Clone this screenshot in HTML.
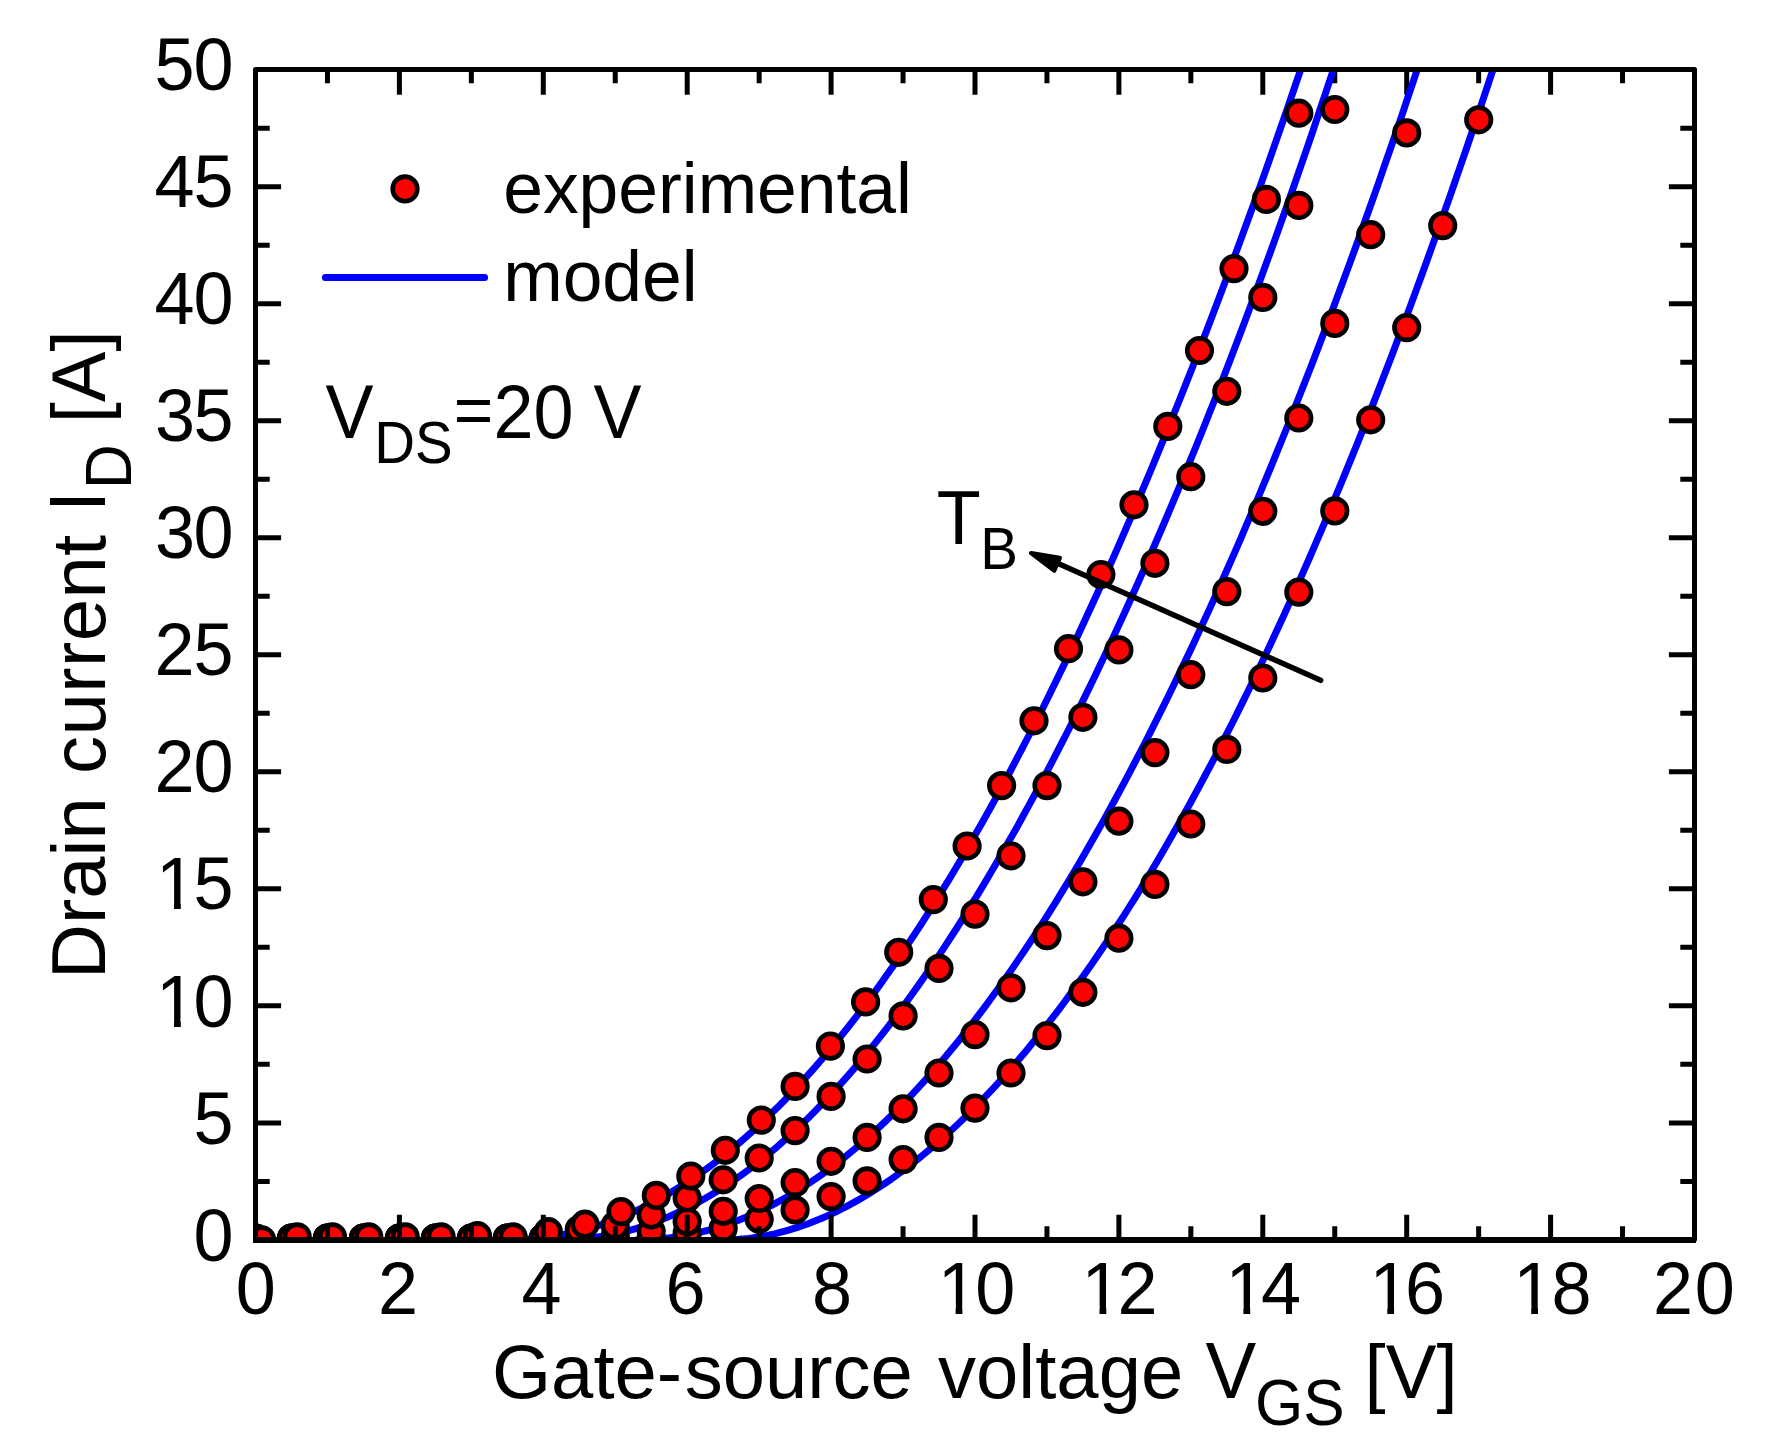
<!DOCTYPE html>
<html lang="en"><head><meta charset="utf-8"><title>Transfer characteristics</title>
<style>html,body{margin:0;padding:0;background:#fff}body{width:1789px;height:1456px;overflow:hidden}svg{display:block}text{font-family:"Liberation Sans",Arial,sans-serif;fill:#000}</style></head><body>
<svg width="1789" height="1456" viewBox="0 0 1789 1456">
<rect width="1789" height="1456" fill="#fff"/>
<defs><clipPath id="pc"><rect x="255.5" y="69.70" width="1439.00" height="1170.20"/></clipPath></defs>
<path stroke="#000" fill="none" stroke-width="5" d="M327.45 69.5v13.7M399.40 69.5v25.3M471.35 69.5v13.7M543.30 69.5v25.3M615.25 69.5v13.7M687.20 69.5v25.3M759.15 69.5v13.7M831.10 69.5v25.3M903.05 69.5v13.7M975.00 69.5v25.3M1046.95 69.5v13.7M1118.90 69.5v25.3M1190.85 69.5v13.7M1262.80 69.5v25.3M1334.75 69.5v13.7M1406.70 69.5v25.3M1478.65 69.5v13.7M1550.60 69.5v25.3M1622.55 69.5v13.7"/>
<g clip-path="url(#pc)">
<g fill="none" stroke="#0000ff" stroke-width="7" stroke-linejoin="round" stroke-linecap="round">
<path d="M722.5 1239.9 L726.2 1239.9 L729.9 1239.8 L733.7 1239.6 L737.4 1239.4 L741.1 1239.1 L744.8 1238.8 L748.5 1238.4 L752.3 1237.9 L756.0 1237.3 L759.7 1236.8 L763.4 1236.1 L767.2 1235.4 L770.9 1234.6 L774.6 1233.8 L778.3 1232.9 L782.0 1231.9 L785.8 1230.9 L789.5 1229.9 L793.2 1228.7 L796.9 1227.6 L800.7 1226.3 L804.4 1225.0 L808.1 1223.7 L811.8 1222.3 L815.5 1220.8 L819.3 1219.3 L823.0 1217.7 L826.7 1216.1 L830.4 1214.4 L835.9 1211.8 L841.3 1209.1 L846.7 1206.3 L852.2 1203.4 L857.6 1200.4 L863.0 1197.2 L868.5 1194.0 L873.9 1190.6 L879.3 1187.1 L884.8 1183.5 L890.2 1179.8 L895.6 1176.0 L901.1 1172.0 L906.5 1168.0 L911.9 1163.8 L917.4 1159.5 L922.8 1155.1 L928.2 1150.6 L933.7 1146.0 L939.1 1141.3 L944.5 1136.5 L950.0 1131.5 L955.4 1126.5 L960.9 1121.3 L966.3 1116.1 L971.7 1110.7 L977.2 1105.2 L982.6 1099.6 L988.0 1093.9 L993.5 1088.1 L998.9 1082.2 L1004.3 1076.1 L1009.8 1070.0 L1015.2 1063.7 L1020.6 1057.4 L1026.1 1050.9 L1031.5 1044.3 L1036.9 1037.6 L1042.4 1030.8 L1047.8 1023.9 L1053.2 1016.9 L1058.7 1009.8 L1064.1 1002.5 L1069.5 995.2 L1075.0 987.7 L1080.4 980.1 L1085.8 972.4 L1091.3 964.7 L1096.7 956.8 L1102.1 948.7 L1107.6 940.6 L1113.0 932.4 L1118.4 924.0 L1123.9 915.6 L1129.3 907.0 L1134.8 898.3 L1140.2 889.5 L1145.6 880.6 L1151.1 871.6 L1156.5 862.4 L1161.9 853.2 L1167.4 843.8 L1172.8 834.3 L1178.2 824.7 L1183.7 815.0 L1189.1 805.2 L1194.5 795.3 L1200.0 785.2 L1205.4 775.0 L1210.8 764.8 L1216.3 754.4 L1221.7 743.8 L1227.1 733.2 L1232.6 722.5 L1238.0 711.6 L1243.4 700.6 L1248.9 689.5 L1254.3 678.3 L1259.7 667.0 L1265.2 655.6 L1270.6 644.0 L1276.0 632.3 L1281.5 620.5 L1286.9 608.6 L1292.4 596.6 L1297.8 584.4 L1303.2 572.1 L1308.7 559.8 L1314.1 547.2 L1319.5 534.6 L1325.0 521.9 L1330.4 509.0 L1335.8 496.0 L1341.3 482.9 L1346.7 469.7 L1352.1 456.4 L1357.6 442.9 L1363.0 429.4 L1368.4 415.7 L1373.9 401.9 L1379.3 387.9 L1384.7 373.9 L1390.2 359.7 L1395.6 345.4 L1401.0 331.0 L1406.5 316.5 L1411.9 301.9 L1417.3 287.1 L1422.8 272.2 L1428.2 257.2 L1433.6 242.1 L1439.1 226.9 L1444.5 211.6 L1450.0 196.1 L1455.4 180.5 L1460.8 164.8 L1466.3 149.0 L1471.7 133.1 L1477.1 117.1 L1482.6 100.9 L1488.0 84.7 L1493.4 68.3 L1498.9 51.8 L1504.3 35.2 L1509.7 18.5 L1515.2 1.6 L1520.6 -15.3 L1526.0 -32.3 L1531.5 -49.5 L1536.9 -66.8"/>
<path d="M636.7 1239.9 L640.4 1239.9 L644.1 1239.8 L647.8 1239.7 L651.6 1239.5 L655.3 1239.3 L659.0 1239.0 L662.7 1238.6 L666.4 1238.2 L670.2 1237.8 L673.9 1237.3 L677.6 1236.8 L681.3 1236.1 L685.1 1235.5 L688.8 1234.8 L692.5 1234.0 L696.2 1233.2 L699.9 1232.4 L703.7 1231.4 L707.4 1230.5 L711.1 1229.4 L714.8 1228.4 L718.6 1227.2 L722.3 1226.1 L726.0 1224.8 L729.7 1223.5 L733.4 1222.2 L737.2 1220.8 L740.9 1219.3 L744.6 1217.8 L750.6 1215.3 L756.6 1212.6 L762.5 1209.8 L768.5 1206.9 L774.5 1203.8 L780.4 1200.6 L786.4 1197.2 L792.4 1193.7 L798.4 1190.1 L804.3 1186.3 L810.3 1182.4 L816.3 1178.4 L822.3 1174.2 L828.2 1169.8 L834.2 1165.4 L840.2 1160.8 L846.2 1156.0 L852.1 1151.1 L858.1 1146.1 L864.1 1140.9 L870.1 1135.6 L876.0 1130.2 L882.0 1124.6 L888.0 1118.9 L894.0 1113.0 L899.9 1107.0 L905.9 1100.9 L911.9 1094.6 L917.9 1088.2 L923.8 1081.7 L929.8 1075.0 L935.8 1068.1 L941.8 1061.2 L947.7 1054.1 L953.7 1046.8 L959.7 1039.5 L965.6 1031.9 L971.6 1024.3 L977.6 1016.5 L983.6 1008.6 L989.5 1000.5 L995.5 992.3 L1001.5 984.0 L1007.5 975.5 L1013.4 966.9 L1019.4 958.1 L1025.4 949.2 L1031.4 940.2 L1037.3 931.1 L1043.3 921.8 L1049.3 912.3 L1055.3 902.8 L1061.2 893.1 L1067.2 883.2 L1073.2 873.3 L1079.2 863.2 L1085.1 852.9 L1091.1 842.5 L1097.1 832.0 L1103.1 821.4 L1109.0 810.6 L1115.0 799.7 L1121.0 788.6 L1127.0 777.4 L1132.9 766.1 L1138.9 754.6 L1144.9 743.0 L1150.8 731.3 L1156.8 719.4 L1162.8 707.4 L1168.8 695.3 L1174.7 683.0 L1180.7 670.6 L1186.7 658.1 L1192.7 645.4 L1198.6 632.6 L1204.6 619.6 L1210.6 606.6 L1216.6 593.3 L1222.5 580.0 L1228.5 566.5 L1234.5 552.9 L1240.5 539.1 L1246.4 525.2 L1252.4 511.2 L1258.4 497.0 L1264.4 482.7 L1270.3 468.3 L1276.3 453.7 L1282.3 439.0 L1288.3 424.2 L1294.2 409.2 L1300.2 394.0 L1306.2 378.8 L1312.2 363.4 L1318.1 347.9 L1324.1 332.2 L1330.1 316.4 L1336.0 300.4 L1342.0 284.3 L1348.0 268.1 L1354.0 251.7 L1359.9 235.2 L1365.9 218.5 L1371.9 201.7 L1377.9 184.8 L1383.8 167.7 L1389.8 150.5 L1395.8 133.1 L1401.8 115.6 L1407.7 97.9 L1413.7 80.1 L1419.7 62.2 L1425.7 44.1 L1431.6 25.8 L1437.6 7.5 L1443.6 -11.1 L1449.6 -29.8 L1455.5 -48.6 L1461.5 -67.6"/>
<path d="M558.6 1239.9 L562.4 1239.9 L566.1 1239.8 L569.8 1239.7 L573.5 1239.5 L577.3 1239.3 L581.0 1239.0 L584.7 1238.6 L588.4 1238.2 L592.1 1237.8 L595.9 1237.3 L599.6 1236.7 L603.3 1236.1 L607.0 1235.5 L610.7 1234.8 L614.5 1234.0 L618.2 1233.2 L621.9 1232.3 L625.6 1231.4 L629.4 1230.4 L633.1 1229.4 L636.8 1228.3 L640.5 1227.1 L644.2 1225.9 L648.0 1224.7 L651.7 1223.4 L655.4 1222.0 L659.1 1220.6 L662.9 1219.1 L666.6 1217.6 L673.0 1214.8 L679.5 1211.8 L686.0 1208.7 L692.4 1205.4 L698.9 1201.9 L705.4 1198.3 L711.8 1194.5 L718.3 1190.6 L724.8 1186.4 L731.2 1182.1 L737.7 1177.7 L744.2 1173.0 L750.6 1168.2 L757.1 1163.2 L763.5 1158.1 L770.0 1152.8 L776.5 1147.3 L782.9 1141.7 L789.4 1135.9 L795.9 1129.9 L802.3 1123.7 L808.8 1117.4 L815.3 1110.9 L821.7 1104.3 L828.2 1097.5 L834.7 1090.5 L841.1 1083.4 L847.6 1076.1 L854.1 1068.6 L860.5 1061.0 L867.0 1053.2 L873.5 1045.2 L879.9 1037.1 L886.4 1028.8 L892.8 1020.3 L899.3 1011.7 L905.8 1002.9 L912.2 994.0 L918.7 984.9 L925.2 975.6 L931.6 966.2 L938.1 956.6 L944.6 946.9 L951.0 937.0 L957.5 927.0 L964.0 916.7 L970.4 906.4 L976.9 895.8 L983.4 885.2 L989.8 874.3 L996.3 863.3 L1002.7 852.1 L1009.2 840.8 L1015.7 829.4 L1022.1 817.7 L1028.6 805.9 L1035.1 794.0 L1041.5 781.9 L1048.0 769.7 L1054.5 757.2 L1060.9 744.7 L1067.4 732.0 L1073.9 719.1 L1080.3 706.1 L1086.8 692.9 L1093.3 679.5 L1099.7 666.0 L1106.2 652.4 L1112.7 638.6 L1119.1 624.6 L1125.6 610.5 L1132.0 596.2 L1138.5 581.8 L1145.0 567.2 L1151.4 552.5 L1157.9 537.5 L1164.4 522.5 L1170.8 507.3 L1177.3 491.9 L1183.8 476.3 L1190.2 460.6 L1196.7 444.7 L1203.2 428.7 L1209.6 412.5 L1216.1 396.2 L1222.6 379.6 L1229.0 363.0 L1235.5 346.1 L1242.0 329.1 L1248.4 311.9 L1254.9 294.5 L1261.3 277.0 L1267.8 259.3 L1274.3 241.4 L1280.7 223.3 L1287.2 205.1 L1293.7 186.7 L1300.1 168.1 L1306.6 149.3 L1313.1 130.4 L1319.5 111.2 L1326.0 91.9 L1332.5 72.4 L1338.9 52.6 L1345.4 32.7 L1351.9 12.6 L1358.3 -7.7 L1364.8 -28.2 L1371.3 -48.9 L1377.7 -69.8"/>
<path d="M508.3 1239.9 L512.0 1239.9 L515.7 1239.8 L519.5 1239.7 L523.2 1239.5 L526.9 1239.3 L530.6 1239.0 L534.3 1238.7 L538.1 1238.4 L541.8 1237.9 L545.5 1237.5 L549.2 1237.0 L552.9 1236.4 L556.7 1235.8 L560.4 1235.1 L564.1 1234.4 L567.8 1233.7 L571.6 1232.9 L575.3 1232.0 L579.0 1231.1 L582.7 1230.1 L586.4 1229.1 L590.2 1228.1 L593.9 1226.9 L597.6 1225.8 L601.3 1224.6 L605.0 1223.3 L608.8 1222.0 L612.5 1220.6 L616.2 1219.2 L623.0 1216.5 L629.8 1213.6 L636.6 1210.5 L643.3 1207.3 L650.1 1203.9 L656.9 1200.3 L663.7 1196.5 L670.5 1192.6 L677.2 1188.5 L684.0 1184.2 L690.8 1179.8 L697.6 1175.1 L704.4 1170.3 L711.2 1165.4 L717.9 1160.2 L724.7 1154.9 L731.5 1149.4 L738.3 1143.7 L745.1 1137.8 L751.8 1131.8 L758.6 1125.6 L765.4 1119.2 L772.2 1112.6 L779.0 1105.9 L785.8 1099.0 L792.5 1091.9 L799.3 1084.6 L806.1 1077.2 L812.9 1069.6 L819.7 1061.8 L826.4 1053.8 L833.2 1045.6 L840.0 1037.3 L846.8 1028.8 L853.6 1020.1 L860.4 1011.3 L867.1 1002.3 L873.9 993.1 L880.7 983.7 L887.5 974.1 L894.3 964.4 L901.0 954.5 L907.8 944.4 L914.6 934.2 L921.4 923.8 L928.2 913.2 L935.0 902.4 L941.7 891.4 L948.5 880.3 L955.3 869.0 L962.1 857.6 L968.9 845.9 L975.6 834.1 L982.4 822.2 L989.2 810.0 L996.0 797.7 L1002.8 785.2 L1009.6 772.5 L1016.3 759.7 L1023.1 746.7 L1029.9 733.5 L1036.7 720.2 L1043.5 706.7 L1050.2 693.0 L1057.0 679.1 L1063.8 665.1 L1070.6 650.9 L1077.4 636.6 L1084.1 622.0 L1090.9 607.3 L1097.7 592.5 L1104.5 577.4 L1111.3 562.2 L1118.1 546.9 L1124.8 531.3 L1131.6 515.6 L1138.4 499.7 L1145.2 483.7 L1152.0 467.5 L1158.7 451.1 L1165.5 434.6 L1172.3 417.8 L1179.1 401.0 L1185.9 383.9 L1192.7 366.7 L1199.4 349.3 L1206.2 331.7 L1213.0 314.0 L1219.8 296.1 L1226.6 278.0 L1233.3 259.8 L1240.1 241.4 L1246.9 222.8 L1253.7 204.1 L1260.5 185.2 L1267.3 166.1 L1274.0 146.8 L1280.8 127.4 L1287.6 107.8 L1294.4 88.0 L1301.2 68.1 L1307.9 48.0 L1314.7 27.7 L1321.5 7.2 L1328.3 -13.4 L1335.1 -34.3 L1341.9 -55.3"/>
</g>
<g fill="#ff0000" stroke="#000" stroke-width="4.6">
<circle cx="255.5" cy="1238.0" r="12.3"/>
<circle cx="291.5" cy="1238.0" r="12.3"/>
<circle cx="327.4" cy="1238.0" r="12.3"/>
<circle cx="363.4" cy="1238.0" r="12.3"/>
<circle cx="399.4" cy="1238.0" r="12.3"/>
<circle cx="435.4" cy="1238.0" r="12.3"/>
<circle cx="471.4" cy="1238.0" r="12.3"/>
<circle cx="507.3" cy="1238.0" r="12.3"/>
<circle cx="543.3" cy="1238.0" r="12.3"/>
<circle cx="579.3" cy="1238.0" r="12.3"/>
<circle cx="615.2" cy="1238.0" r="12.3"/>
<circle cx="651.2" cy="1238.0" r="12.3"/>
<circle cx="687.2" cy="1232.9" r="12.3"/>
<circle cx="723.2" cy="1228.2" r="12.3"/>
<circle cx="759.2" cy="1219.3" r="12.3"/>
<circle cx="795.1" cy="1209.9" r="12.3"/>
<circle cx="831.1" cy="1196.6" r="12.3"/>
<circle cx="867.1" cy="1180.9" r="12.3"/>
<circle cx="903.1" cy="1159.6" r="12.3"/>
<circle cx="939.0" cy="1137.4" r="12.3"/>
<circle cx="975.0" cy="1108.1" r="12.3"/>
<circle cx="1011.0" cy="1073.0" r="12.3"/>
<circle cx="1047.0" cy="1035.6" r="12.3"/>
<circle cx="1082.9" cy="992.3" r="12.3"/>
<circle cx="1118.9" cy="938.2" r="12.3"/>
<circle cx="1154.9" cy="884.4" r="12.3"/>
<circle cx="1190.8" cy="824.0" r="12.3"/>
<circle cx="1226.8" cy="749.4" r="12.3"/>
<circle cx="1262.8" cy="678.0" r="12.3"/>
<circle cx="1298.8" cy="592.1" r="12.3"/>
<circle cx="1334.8" cy="510.9" r="12.3"/>
<circle cx="1370.7" cy="419.8" r="12.3"/>
<circle cx="1406.7" cy="327.6" r="12.3"/>
<circle cx="1442.7" cy="225.6" r="12.3"/>
<circle cx="1478.7" cy="119.8" r="12.3"/>
<circle cx="255.5" cy="1238.0" r="12.3"/>
<circle cx="291.5" cy="1238.0" r="12.3"/>
<circle cx="327.4" cy="1238.0" r="12.3"/>
<circle cx="363.4" cy="1238.0" r="12.3"/>
<circle cx="399.4" cy="1238.0" r="12.3"/>
<circle cx="435.4" cy="1238.0" r="12.3"/>
<circle cx="471.4" cy="1238.0" r="12.3"/>
<circle cx="507.3" cy="1238.0" r="12.3"/>
<circle cx="543.3" cy="1238.0" r="12.3"/>
<circle cx="579.3" cy="1238.0" r="12.3"/>
<circle cx="615.2" cy="1236.4" r="12.3"/>
<circle cx="651.2" cy="1231.5" r="12.3"/>
<circle cx="687.2" cy="1221.6" r="12.3"/>
<circle cx="723.2" cy="1211.3" r="12.3"/>
<circle cx="759.2" cy="1198.5" r="12.3"/>
<circle cx="795.1" cy="1182.6" r="12.3"/>
<circle cx="831.1" cy="1161.3" r="12.3"/>
<circle cx="867.1" cy="1137.4" r="12.3"/>
<circle cx="903.1" cy="1108.8" r="12.3"/>
<circle cx="939.0" cy="1073.0" r="12.3"/>
<circle cx="975.0" cy="1034.6" r="12.3"/>
<circle cx="1011.0" cy="987.8" r="12.3"/>
<circle cx="1047.0" cy="935.6" r="12.3"/>
<circle cx="1082.9" cy="881.8" r="12.3"/>
<circle cx="1118.9" cy="821.2" r="12.3"/>
<circle cx="1154.9" cy="752.6" r="12.3"/>
<circle cx="1190.8" cy="674.7" r="12.3"/>
<circle cx="1226.8" cy="591.6" r="12.3"/>
<circle cx="1262.8" cy="511.3" r="12.3"/>
<circle cx="1298.8" cy="418.0" r="12.3"/>
<circle cx="1334.8" cy="323.4" r="12.3"/>
<circle cx="1370.7" cy="234.7" r="12.3"/>
<circle cx="1406.7" cy="132.9" r="12.3"/>
<circle cx="255.5" cy="1238.0" r="12.3"/>
<circle cx="291.5" cy="1238.0" r="12.3"/>
<circle cx="327.4" cy="1238.0" r="12.3"/>
<circle cx="363.4" cy="1238.0" r="12.3"/>
<circle cx="399.4" cy="1238.0" r="12.3"/>
<circle cx="435.4" cy="1238.0" r="12.3"/>
<circle cx="471.4" cy="1238.0" r="12.3"/>
<circle cx="507.3" cy="1238.0" r="12.3"/>
<circle cx="543.3" cy="1238.0" r="12.3"/>
<circle cx="579.3" cy="1229.4" r="12.3"/>
<circle cx="615.2" cy="1225.4" r="12.3"/>
<circle cx="651.2" cy="1214.9" r="12.3"/>
<circle cx="687.2" cy="1198.0" r="12.3"/>
<circle cx="723.2" cy="1179.8" r="12.3"/>
<circle cx="759.2" cy="1158.0" r="12.3"/>
<circle cx="795.1" cy="1130.6" r="12.3"/>
<circle cx="831.1" cy="1096.4" r="12.3"/>
<circle cx="867.1" cy="1059.0" r="12.3"/>
<circle cx="903.1" cy="1015.9" r="12.3"/>
<circle cx="939.0" cy="968.4" r="12.3"/>
<circle cx="975.0" cy="914.1" r="12.3"/>
<circle cx="1011.0" cy="855.8" r="12.3"/>
<circle cx="1047.0" cy="785.6" r="12.3"/>
<circle cx="1082.9" cy="717.3" r="12.3"/>
<circle cx="1118.9" cy="649.9" r="12.3"/>
<circle cx="1154.9" cy="563.3" r="12.3"/>
<circle cx="1190.8" cy="476.7" r="12.3"/>
<circle cx="1226.8" cy="391.3" r="12.3"/>
<circle cx="1262.8" cy="297.4" r="12.3"/>
<circle cx="1298.8" cy="205.4" r="12.3"/>
<circle cx="1334.8" cy="109.5" r="12.3"/>
<circle cx="261.6" cy="1239.9" r="12.3"/>
<circle cx="297.2" cy="1236.9" r="12.3"/>
<circle cx="332.5" cy="1236.9" r="12.3"/>
<circle cx="368.8" cy="1236.9" r="12.3"/>
<circle cx="405.2" cy="1236.9" r="12.3"/>
<circle cx="441.1" cy="1236.9" r="12.3"/>
<circle cx="477.5" cy="1235.7" r="12.3"/>
<circle cx="513.1" cy="1236.9" r="12.3"/>
<circle cx="548.3" cy="1231.7" r="12.3"/>
<circle cx="585.0" cy="1224.2" r="12.3"/>
<circle cx="621.0" cy="1211.6" r="12.3"/>
<circle cx="656.3" cy="1195.4" r="12.3"/>
<circle cx="690.8" cy="1176.0" r="12.3"/>
<circle cx="725.3" cy="1150.3" r="12.3"/>
<circle cx="761.3" cy="1120.1" r="12.3"/>
<circle cx="795.1" cy="1086.4" r="12.3"/>
<circle cx="830.4" cy="1046.1" r="12.3"/>
<circle cx="865.6" cy="1001.9" r="12.3"/>
<circle cx="898.7" cy="952.3" r="12.3"/>
<circle cx="933.3" cy="899.6" r="12.3"/>
<circle cx="967.1" cy="846.0" r="12.3"/>
<circle cx="1001.6" cy="785.6" r="12.3"/>
<circle cx="1034.0" cy="720.8" r="12.3"/>
<circle cx="1068.5" cy="648.7" r="12.3"/>
<circle cx="1100.9" cy="574.5" r="12.3"/>
<circle cx="1134.0" cy="504.8" r="12.3"/>
<circle cx="1167.8" cy="426.4" r="12.3"/>
<circle cx="1199.5" cy="350.5" r="12.3"/>
<circle cx="1234.0" cy="268.6" r="12.3"/>
<circle cx="1266.4" cy="199.4" r="12.3"/>
<circle cx="1298.8" cy="113.2" r="12.3"/>
</g>
</g>
<g stroke="#000" fill="none">
<rect x="255.5" y="69.5" width="1439.00" height="1170.0" stroke-width="5" stroke-linejoin="round"/>
<path d="M253.0 1240H1696.0" stroke-width="6"/>
<path stroke-width="5" d="M327.45 1240v-13.7M399.40 1240v-25.3M471.35 1240v-13.7M543.30 1240v-25.3M615.25 1240v-13.7M687.20 1240v-25.3M759.15 1240v-13.7M831.10 1240v-25.3M903.05 1240v-13.7M975.00 1240v-25.3M1046.95 1240v-13.7M1118.90 1240v-25.3M1190.85 1240v-13.7M1262.80 1240v-25.3M1334.75 1240v-13.7M1406.70 1240v-25.3M1478.65 1240v-13.7M1550.60 1240v-25.3M1622.55 1240v-13.7M255.50 1181.39h14.2M1694.50 1181.39h-14.2M255.50 1122.88h25.6M1694.50 1122.88h-25.6M255.50 1064.37h14.2M1694.50 1064.37h-14.2M255.50 1005.86h25.6M1694.50 1005.86h-25.6M255.50 947.35h14.2M1694.50 947.35h-14.2M255.50 888.84h25.6M1694.50 888.84h-25.6M255.50 830.33h14.2M1694.50 830.33h-14.2M255.50 771.82h25.6M1694.50 771.82h-25.6M255.50 713.31h14.2M1694.50 713.31h-14.2M255.50 654.80h25.6M1694.50 654.80h-25.6M255.50 596.29h14.2M1694.50 596.29h-14.2M255.50 537.78h25.6M1694.50 537.78h-25.6M255.50 479.27h14.2M1694.50 479.27h-14.2M255.50 420.76h25.6M1694.50 420.76h-25.6M255.50 362.25h14.2M1694.50 362.25h-14.2M255.50 303.74h25.6M1694.50 303.74h-25.6M255.50 245.23h14.2M1694.50 245.23h-14.2M255.50 186.72h25.6M1694.50 186.72h-25.6M255.50 128.21h14.2M1694.50 128.21h-14.2"/>
</g>
<text transform="translate(0 1313.8) scale(1 1.04)" font-size="72px" x="235.8">0</text>
<text transform="translate(0 1313.8) scale(1 1.04)" font-size="72px" x="377.9">2</text>
<text transform="translate(0 1313.8) scale(1 1.04)" font-size="72px" x="521.4">4</text>
<text transform="translate(0 1313.8) scale(1 1.04)" font-size="72px" x="665.5">6</text>
<text transform="translate(0 1313.8) scale(1 1.04)" font-size="72px" x="811.9">8</text>
<text transform="translate(0 1313.8) scale(1 1.04)" font-size="72px" x="937.7 975.3">10</text>
<text transform="translate(0 1313.8) scale(1 1.04)" font-size="72px" x="1081.6 1117.5">12</text>
<text transform="translate(0 1313.8) scale(1 1.04)" font-size="72px" x="1225.5 1260.9">14</text>
<text transform="translate(0 1313.8) scale(1 1.04)" font-size="72px" x="1369.4 1405.0">16</text>
<text transform="translate(0 1313.8) scale(1 1.04)" font-size="72px" x="1513.3 1551.4">18</text>
<text transform="translate(0 1313.8) scale(1 1.04)" font-size="72px" x="1653.0 1694.8">20</text>
<text transform="translate(0 1260.5) scale(1 1.04)" font-size="72px" x="193.6">0</text>
<text transform="translate(0 1143.5) scale(1 1.04)" font-size="72px" x="193.6">5</text>
<text transform="translate(0 1026.5) scale(1 1.04)" font-size="72px" x="156.1 193.6">10</text>
<text transform="translate(0 909.4) scale(1 1.04)" font-size="72px" x="156.1 193.6">15</text>
<text transform="translate(0 792.4) scale(1 1.04)" font-size="72px" x="154.5 193.6">20</text>
<text transform="translate(0 675.4) scale(1 1.04)" font-size="72px" x="154.5 193.6">25</text>
<text transform="translate(0 558.4) scale(1 1.04)" font-size="72px" x="155.0 193.6">30</text>
<text transform="translate(0 441.4) scale(1 1.04)" font-size="72px" x="155.0 193.6">35</text>
<text transform="translate(0 324.3) scale(1 1.04)" font-size="72px" x="154.5 193.6">40</text>
<text transform="translate(0 207.3) scale(1 1.04)" font-size="72px" x="154.5 193.6">45</text>
<text transform="translate(0 90.3) scale(1 1.04)" font-size="72px" x="154.5 193.6">50</text>
<path fill="#fff" d="M942.2 1306.6H955.6V1314.8H942.2ZM962.4 1306.6H975.0V1314.8H962.4ZM1086.1 1306.6H1099.5V1314.8H1086.1ZM1106.3 1306.6H1118.9V1314.8H1106.3ZM1230.0 1306.6H1243.4V1314.8H1230.0ZM1250.2 1306.6H1262.8V1314.8H1250.2ZM1373.9 1306.6H1387.3V1314.8H1373.9ZM1394.1 1306.6H1406.7V1314.8H1394.1ZM1517.8 1306.6H1531.2V1314.8H1517.8ZM1538.0 1306.6H1550.6V1314.8H1538.0ZM160.6 1019.3H174.0V1027.5H160.6ZM180.8 1019.3H193.4V1027.5H180.8ZM160.6 902.2H174.0V910.4H160.6ZM180.8 902.2H193.4V910.4H180.8Z"/>
<circle cx="405" cy="188.9" r="12.3" fill="#ff0000" stroke="#000" stroke-width="4.6"/>
<path d="M325.4 277.4H484.6" stroke="#0000ff" stroke-width="7" stroke-linecap="round" fill="none"/>
<text transform="translate(503.2 213.0)" font-size="71.4px">experimental</text>
<text transform="translate(503.2 301.0)" font-size="71.4px">model</text>
<text transform="translate(325.4 437.9) scale(1 1.055)" font-size="72px">V</text>
<text transform="translate(374.3 462.9) scale(1 1.055)" font-size="56.5px">DS</text>
<text transform="translate(453.7 434.4) scale(0.94 0.949)" font-size="72px">=</text>
<text transform="translate(493.4 437.9) scale(1 1.055)" font-size="72px">20 V</text>
<text transform="translate(936.8 544.3) scale(1 1.055)" font-size="72px">T</text>
<text transform="translate(980.3 569.0) scale(1 1.055)" font-size="56.5px">B</text>
<g stroke="#000" fill="#000" stroke-linecap="round" stroke-linejoin="round">
<path d="M1320.6 680.3L1052 560.8" stroke-width="5.5" fill="none"/>
<path d="M1031.1 553.1L1059.8 557.9L1054.2 570.6Z" stroke-width="4.4"/>
</g>
<text transform="translate(492.0 1398.3)" font-size="76px">Gate-</text>
<text transform="translate(684.7 1398.3)" font-size="76px">source</text>
<text transform="translate(938.1 1398.3)" font-size="76px">voltage</text>
<text transform="translate(1205.6 1398.3) scale(1 1.04)" font-size="76px">V</text>
<text transform="translate(1255.1 1424.8) scale(1 1.04)" font-size="62px">GS</text>
<text transform="translate(1364.6 1398.3)" font-size="76px">[V]</text>
<text transform="translate(105.3 978.9) rotate(-90)" font-size="76px">Drain</text>
<text transform="translate(105.3 774.0) rotate(-90)" font-size="76px" letter-spacing="0.45">current</text>
<text transform="translate(105.3 512.0) rotate(-90) scale(1 1.04)" font-size="76px">I</text>
<text transform="translate(131.2 489.1) rotate(-90) scale(1 1.04)" font-size="62px">D</text>
<text transform="translate(105.3 423.3) rotate(-90)" font-size="76px">[A]</text>
</svg></body></html>
